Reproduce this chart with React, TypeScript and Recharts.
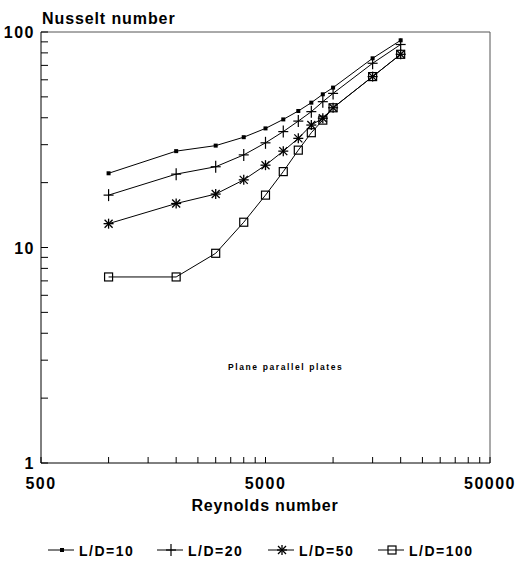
import React from "react";
import { LineChart, Line, XAxis, YAxis, ReferenceLine } from "recharts";

// Reynolds numbers shared by every series
const reynolds = [1000, 2000, 3000, 4000, 5000, 6000, 7000, 8000, 9000, 10000, 15000, 20000];

// Nusselt numbers
const ld10 = [22.1, 28.0, 29.7, 32.5, 35.7, 39.3, 43.0, 47.0, 51.4, 55.2, 75.5, 91.5];
const ld20 = [17.5, 21.9, 23.7, 26.9, 30.6, 34.5, 38.6, 42.7, 47.5, 51.9, 71.6, 87.5];
const ld50 = [12.9, 16.0, 17.7, 20.6, 24.1, 28.0, 32.1, 37.0, 39.8, 44.5, 62.1, 78.8];
const ld100 = [7.3, 7.3, 9.4, 13.1, 17.5, 22.5, 28.3, 34.1, 39.0, 44.5, 62.1, 78.8];

const xTicks = [500, 1000, 1500, 2000, 2500, 3000, 3500, 4000, 4500, 5000,
  10000, 15000, 20000, 25000, 30000, 35000, 40000, 45000, 50000];
const xLabels = [500, 5000, 50000];
const yTicks = [1, 2, 3, 4, 5, 6, 7, 8, 9, 10, 20, 30, 40, 50, 60, 70, 80, 90, 100];
const yLabels = [1, 10, 100];

const seriesNames = ["L/D=10", "L/D=20", "L/D=50", "L/D=100"];
const seriesKeys = ["ld10", "ld20", "ld50", "ld100"];

const data = reynolds.map((re, i) => ({
  re,
  ld10: ld10[i],
  ld20: ld20[i],
  ld50: ld50[i],
  ld100: ld100[i],
}));

const W = 517;
const H = 561;
const X_AXIS_H = 98;
const AXIS_Y = H - X_AXIS_H;
const FONT = "'Liberation Sans', Arial, sans-serif";

function Marker({ kind, cx, cy }: { kind: string; cx: number; cy: number }) {
  if (cx == null || cy == null) return null;
  if (kind === "ld10") {
    return <rect x={cx - 2} y={cy - 2} width={4} height={4} fill="#000" />;
  }
  if (kind === "ld20") {
    return (
      <g stroke="#000" strokeWidth={1.2}>
        <line x1={cx - 5} x2={cx + 5} y1={cy} y2={cy} />
        <line x1={cx} x2={cx} y1={cy - 6} y2={cy + 6} />
      </g>
    );
  }
  if (kind === "ld50") {
    return (
      <g stroke="#000" strokeWidth={1.3}>
        <line x1={cx - 5} x2={cx + 5} y1={cy} y2={cy} />
        <line x1={cx} x2={cx} y1={cy - 5} y2={cy + 5} />
        <line x1={cx - 4} x2={cx + 4} y1={cy - 4} y2={cy + 4} />
        <line x1={cx - 4} x2={cx + 4} y1={cy + 4} y2={cy - 4} />
      </g>
    );
  }
  return (
    <rect x={cx - 4} y={cy - 4} width={8} height={8} fill="none" stroke="#000" strokeWidth={1.2} />
  );
}

// inward tick marks, labels only at 500 / 5000 / 50000
const XTick = (props: any) => {
  const { x, payload } = props;
  const major = xLabels.includes(Number(payload.value));
  return (
    <g>
      <line x1={x} x2={x} y1={AXIS_Y} y2={AXIS_Y - 6} stroke="#000" />
      {major ? (
        <text textAnchor="middle" fontFamily={FONT} fontWeight="bold"
          fontSize={16} letterSpacing={1.5} fill="#000">
          <tspan x={x} y={AXIS_Y + 26}>{String(payload.value)}</tspan>
        </text>
      ) : null}
    </g>
  );
};

const YTick = (props: any) => {
  const { x, y, payload } = props;
  const major = yLabels.includes(Number(payload.value));
  return (
    <g>
      <line x1={x} x2={x + 7} y1={y} y2={y} stroke="#000" />
      {major ? (
        <text textAnchor="end" fontFamily={FONT} fontWeight="bold"
          fontSize={16} letterSpacing={1.5} fill="#000">
          <tspan x={x - 6} y={y + 6}>{String(payload.value)}</tspan>
        </text>
      ) : null}
    </g>
  );
};

const legendX = [48, 157, 268, 378];

export default function App() {
  return (
    <div style={{ position: "absolute", left: 0, top: 0, background: "#fff" }}>
      <LineChart width={W} height={H} data={data}
        margin={{ top: 32, right: 27, bottom: 0, left: 0 }}>
        <XAxis dataKey="re" type="number" scale="log" domain={[500, 50000]}
          allowDataOverflow ticks={xTicks} interval={0} tickSize={0} tickMargin={0}
          tick={(p: any) => <XTick key={`xt-${p.index}`} {...p} />} height={X_AXIS_H}
          axisLine={{ stroke: "#000" }} />
        <YAxis type="number" scale="log" domain={[1, 100]} allowDataOverflow
          ticks={yTicks} interval={0} tickSize={0} tickMargin={0}
          tick={(p: any) => <YTick key={`yt-${p.index}`} {...p} />}
          width={41} axisLine={{ stroke: "#000" }} />
        <ReferenceLine y={100} stroke="#555" />
        <ReferenceLine x={50000} stroke="#555" />
        {seriesKeys.map((k) => (
          <Line key={k} dataKey={k} type="linear" stroke="#000" strokeWidth={1}
            isAnimationActive={false}
            dot={(p: any) => <Marker key={p.index} kind={k} cx={p.cx} cy={p.cy} />} />
        ))}
        <text x={42} y={24} fontFamily={FONT} fontWeight="bold" fontSize={16}
          letterSpacing={0.9} fill="#000">Nusselt number</text>
        <text x={265} y={511} textAnchor="middle" fontFamily={FONT} fontWeight="bold"
          fontSize={16} letterSpacing={0.8} fill="#000">Reynolds number</text>
        <text x={228} y={370} fontFamily={FONT} fontWeight="bold" fontSize={8.5}
          letterSpacing={1.6} fill="#000">Plane parallel plates</text>
        {seriesKeys.map((k, i) => (
          <g key={k}>
            <line x1={legendX[i]} x2={legendX[i] + 26} y1={550} y2={550} stroke="#000" />
            <Marker kind={k} cx={legendX[i] + 14} cy={550} />
            <text x={legendX[i] + 31} y={556} fontFamily={FONT} fontWeight="bold"
              fontSize={14} letterSpacing={1.5} fill="#000">{seriesNames[i]}</text>
          </g>
        ))}
      </LineChart>
    </div>
  );
}
